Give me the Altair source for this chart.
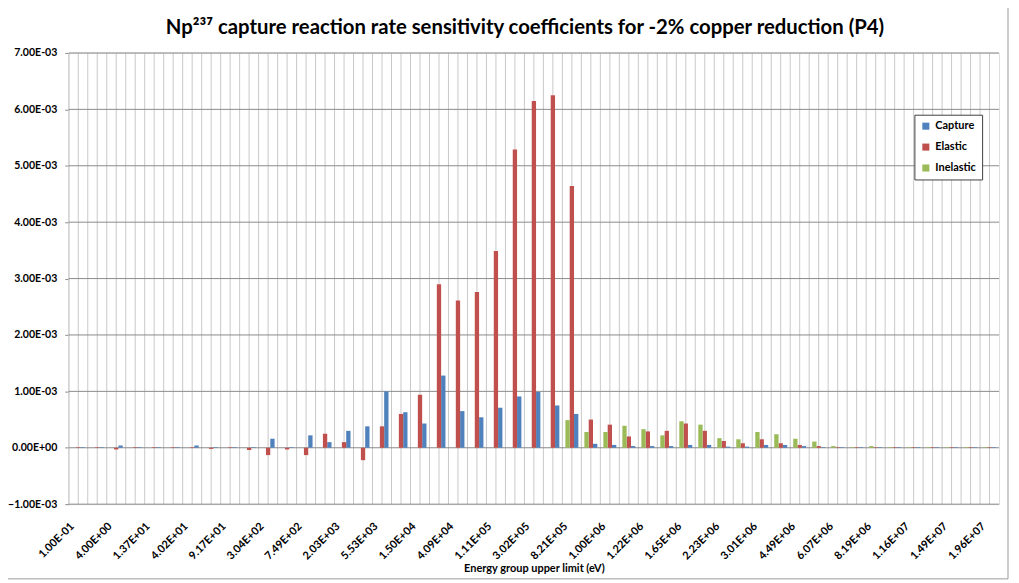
import altair as alt
import pandas as pd

# ---------------- data ----------------
energy = [
    "1.00E-01", "5.40E-01", "4.00E+00", "8.32E+00", "1.37E+01", "2.26E+01", "4.02E+01", "6.79E+01", "9.17E+01", "1.49E+02",
    "3.04E+02", "4.54E+02", "7.49E+02", "1.23E+03", "2.03E+03", "3.35E+03", "5.53E+03", "9.12E+03", "1.50E+04", "2.48E+04",
    "4.09E+04", "6.74E+04", "1.11E+05", "1.83E+05", "3.02E+05", "4.98E+05", "8.21E+05", "9.07E+05", "1.00E+06", "1.11E+06",
    "1.22E+06", "1.35E+06", "1.65E+06", "1.92E+06", "2.23E+06", "2.73E+06", "3.01E+06", "3.68E+06", "4.49E+06", "4.97E+06",
    "6.07E+06", "7.41E+06", "8.19E+06", "1.00E+07", "1.16E+07", "1.38E+07", "1.49E+07", "1.73E+07", "1.96E+07",
]

tick_labels = [
    "1.00E-01", "4.00E+00", "1.37E+01", "4.02E+01", "9.17E+01", "3.04E+02", "7.49E+02", "2.03E+03", "5.53E+03",
    "1.50E+04", "4.09E+04", "1.11E+05", "3.02E+05", "8.21E+05", "1.00E+06", "1.22E+06", "1.65E+06", "2.23E+06",
    "3.01E+06", "4.49E+06", "6.07E+06", "8.19E+06", "1.16E+07", "1.49E+07", "1.96E+07",
]

# values in units of 1E-03
capture = [
    0.01, 0.01, 0.04, 0.01, 0.01, 0.01, 0.04, 0.01, 0.01, 0.01,
    0.16, 0.01, 0.22, 0.10, 0.30, 0.38, 1.00, 0.63, 0.43, 1.28,
    0.65, 0.54, 0.71, 0.91, 0.99, 0.75, 0.60, 0.07, 0.05, 0.03,
    0.03, 0.03, 0.05, 0.05, 0.02, 0.02, 0.05, 0.05, 0.03, 0.01,
    0.01, 0.01, 0.01, 0.01, 0.01, 0.01, 0.01, 0.01, 0.01,
]
elastic = [
    0.01, 0.01, -0.03, 0.01, 0.01, 0.01, 0.01, -0.02, 0.01, -0.04,
    -0.13, -0.03, -0.13, 0.25, 0.10, -0.22, 0.38, 0.60, 0.94, 2.90,
    2.61, 2.76, 3.49, 5.29, 6.15, 6.25, 4.64, 0.50, 0.41, 0.20,
    0.29, 0.30, 0.43, 0.30, 0.12, 0.08, 0.15, 0.08, 0.05, 0.03,
    0.01, 0.01, 0.01, 0.01, 0.01, 0.01, 0.01, 0.01, 0.01,
]
inelastic = [
    0.0, 0.0, 0.0, 0.0, 0.0, 0.0, 0.0, 0.0, 0.0, 0.0,
    0.0, 0.0, 0.0, 0.0, 0.0, 0.0, 0.0, 0.0, 0.0, 0.0,
    0.0, 0.0, 0.0, 0.0, 0.0, 0.0, 0.49, 0.28, 0.28, 0.39,
    0.33, 0.22, 0.47, 0.41, 0.17, 0.15, 0.28, 0.24, 0.16, 0.11,
    0.03, 0.01, 0.03, 0.01, 0.01, 0.01, 0.01, 0.01, 0.01,
]

series = ["Capture", "Elastic", "Inelastic"]
series_colors = ["#4F81BD", "#C0504D", "#9BBB59"]
cluster_order = ["Inelastic", "Elastic", "Capture"]
y_ticks = [-1, 0, 1, 2, 3, 4, 5, 6, 7]  # units of 1E-03

rows = []
for name, vals in zip(series, [capture, elastic, inelastic]):
    for e, v in zip(energy, vals):
        rows.append({"energy": e, "series": name, "value": v * 1e-3})
df = pd.DataFrame(rows)
cat_df = pd.DataFrame({"energy": energy})
ygrid_df = pd.DataFrame({"value": [t * 1e-3 for t in y_ticks]})

# ---------------- chart ----------------
W, H = 934, 453
FONT = "Lato"

x_scale = alt.Scale(type="band", domain=energy, paddingInner=0, paddingOuter=0)
y_scale = alt.Scale(domain=[-0.001, 0.007], nice=False, zero=False)

x_axis = alt.Axis(
    title="Energy group upper limit (eV)",
    values=tick_labels,
    labelAngle=-45,
    labelAlign="right",
    labelBaseline="top",
    labelFont=FONT,
    labelFontSize=11,
    labelFontWeight="bold",
    labelColor="#000000",
    labelPadding=16,
    labelOffset=-10,
    ticks=False,
    domain=False,
    grid=False,
    labelOverlap=False,
    titleFont=FONT,
    titleFontSize=11,
    titleFontWeight="bold",
    titleColor="#000000",
    titlePadding=1,
)
y_axis = alt.Axis(
    title=None,
    values=[t * 1e-3 for t in y_ticks],
    labelExpr="datum.value == 0 ? '0.00E+00' : format(datum.value * 1000, '.2f') + 'E-03'",
    labelFont=FONT,
    labelFontSize=10.6,
    labelFontWeight="bold",
    labelColor="#000000",
    labelPadding=8,
    ticks=True,
    tickSize=4,
    tickColor="#8a8a8a",
    domain=False,
    grid=False,
)

vgrid_edge = alt.Chart(cat_df).mark_rule(color="#c9c9c9", strokeWidth=1).encode(
    x=alt.X("energy:N", scale=x_scale, bandPosition=0, axis=x_axis)
)
vgrid_mid = alt.Chart(cat_df).mark_rule(color="#c9c9c9", strokeWidth=1).encode(
    x=alt.X("energy:N", scale=x_scale, bandPosition=0.5, axis=x_axis)
)
hgrid = alt.Chart(ygrid_df).mark_rule(color="#8a8a8a", strokeWidth=1).encode(
    y=alt.Y("value:Q", scale=y_scale, axis=y_axis)
)

bars = alt.Chart(df).mark_bar().encode(
    x=alt.X("energy:N", scale=x_scale, axis=x_axis),
    xOffset=alt.XOffset(
        "series:N",
        sort=cluster_order,
        scale=alt.Scale(domain=cluster_order, paddingInner=0, paddingOuter=0.7),
    ),
    y=alt.Y("value:Q", scale=y_scale, axis=y_axis),
    color=alt.Color(
        "series:N",
        scale=alt.Scale(domain=series, range=series_colors),
        legend=alt.Legend(
            title=None,
            orient="none",
            legendX=849,
            legendY=62,
            symbolType="square",
            symbolSize=50,
            symbolStrokeWidth=0,
            labelFont=FONT,
            labelFontSize=11,
            labelFontWeight="bold",
            labelColor="#000000",
            labelOffset=4,
            padding=6,
            rowPadding=9,
            strokeColor="#404040",
            fillColor="#ffffff",
        ),
    ),
)

border = alt.Chart(pd.DataFrame({"k": [0]})).mark_rect(
    fillOpacity=0, stroke="#9a9a9a", strokeWidth=1
).encode(
    x=alt.value(-62), x2=alt.value(W + 9), y=alt.value(-49), y2=alt.value(H + 75)
)

chart = alt.layer(vgrid_edge, vgrid_mid, hgrid, bars, border).properties(
    width=W,
    height=H,
    autosize=alt.AutoSizeParams(type="none"),
    padding={"left": 61, "top": 44, "right": 12, "bottom": 76},
    title=alt.TitleParams(
        text="Np²³⁷ capture reaction rate sensitivity coefficients for -2% copper reduction (P4)",
        font=FONT,
        fontSize=20.4,
        fontWeight="bold",
        color="#000000",
        anchor="middle",
        frame="group",
        baseline="alphabetic",
        offset=-51,
        dx=-9,
    ),
).configure_view(stroke="#404040", strokeWidth=1.5).configure(background="#ffffff")

chart.save("out.html", embed_options={"renderer": "svg", "actions": False})
